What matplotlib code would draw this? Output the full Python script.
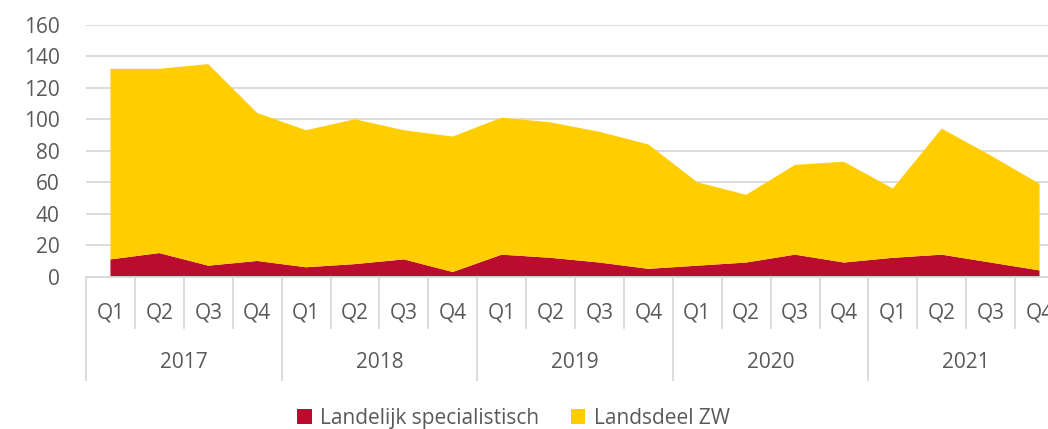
import matplotlib.pyplot as plt
import matplotlib.transforms as mtransforms
from matplotlib.patches import Patch

plt.rcParams['font.family'] = ['Open Sans', 'DejaVu Sans']

years = ['2017', '2018', '2019', '2020', '2021']
quarters = ['Q1', 'Q2', 'Q3', 'Q4']
landelijk = [11, 15, 7, 10, 6, 8, 11, 3, 14, 12, 9, 5, 7, 9, 14, 9, 12, 14, 9, 4]
zw = [121, 117, 128, 94, 87, 92, 82, 86, 87, 86, 83, 79, 53, 43, 57, 64, 44, 80, 68, 55]
series_names = ['Landelijk specialistisch', 'Landsdeel ZW']
colors = ['#ba0c2f', '#ffcd00']
text_color = '#595959'
grid_color = '#d9d9d9'
fs = 15

n = len(landelijk)
x = list(range(n))

fig = plt.figure(figsize=(10.48, 4.29), dpi=100)
ax = fig.add_axes([86 / 1048, 0.355, (20 * 48.9) / 1048, 0.5874])

ax.stackplot(x, landelijk, zw, colors=colors, linewidth=0)

ax.set_xlim(-0.5, n - 0.5)
ax.set_ylim(0, 160)
ax.set_yticks(range(0, 161, 20))
ax.yaxis.grid(True, color=grid_color, linewidth=1.3)
ax.set_axisbelow(True)
ax.tick_params(axis='y', length=0, pad=19, labelsize=fs, labelcolor=text_color)
ax.set_xticks([])
for s in ['top', 'right', 'left']:
    ax.spines[s].set_visible(False)
ax.spines['bottom'].set_color(grid_color)
ax.spines['bottom'].set_linewidth(1.3)

trans = mtransforms.blended_transform_factory(ax.transData, ax.transAxes)
# category labels
for i in range(n):
    ax.text(i, -0.143, quarters[i % 4], transform=trans, ha='center', va='center',
            fontsize=fs, color=text_color, clip_on=False)
for j, yr in enumerate(years):
    ax.text(j * 4 + 1.5, -0.341, yr, transform=trans, ha='center', va='center',
            fontsize=fs, color=text_color, clip_on=False)
# separators
for i in range(n + 1):
    bottom = -0.409 if i % 4 == 0 else -0.202
    ax.plot([i - 0.5, i - 0.5], [0, bottom], transform=trans, color=grid_color,
            linewidth=1.3, clip_on=False)

handles = [Patch(facecolor=c, edgecolor='none') for c in colors]
fig.legend(handles, series_names, loc='center', bbox_to_anchor=(0.49, 0.025),
           ncol=2, frameon=False, fontsize=fs, labelcolor=text_color,
           handlelength=0.7, handleheight=0.7, handletextpad=0.4, columnspacing=1.5)

fig.savefig('out.png', dpi=100)
